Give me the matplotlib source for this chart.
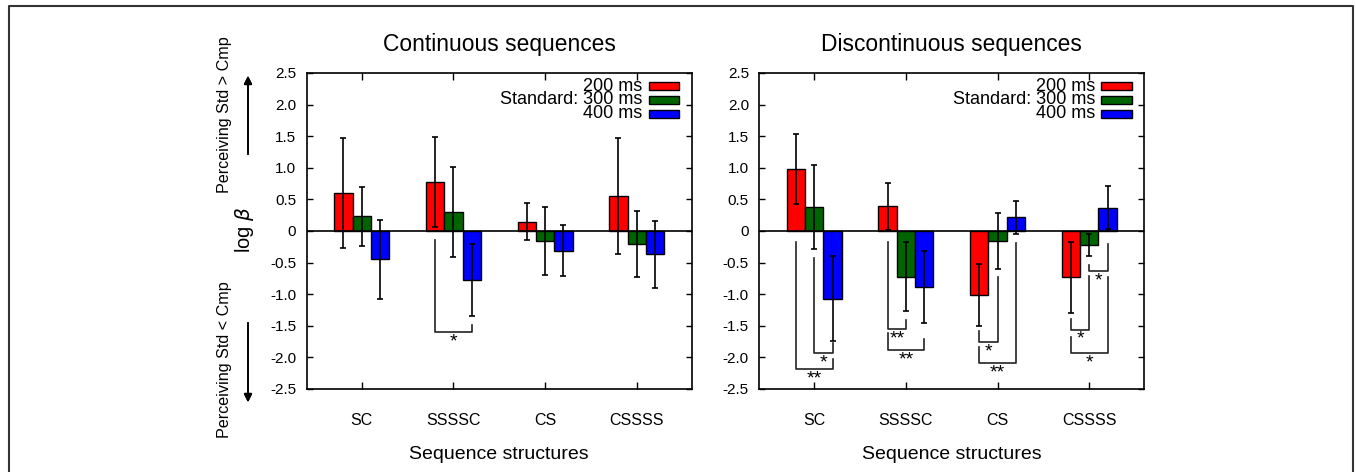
import numpy as np
import matplotlib
matplotlib.use('Agg')
import matplotlib.pyplot as plt
from matplotlib.patches import Rectangle
from matplotlib.lines import Line2D

plt.rcParams['font.family'] = ['Liberation Sans', 'DejaVu Sans']

# data
structures = ['SC', 'SSSSC', 'CS', 'CSSSS']
standards = ['200 ms', '300 ms', '400 ms']
colors = ['#ff0000', '#006400', '#0000ff']

cont_mean = [[0.60, 0.78, 0.15, 0.55],
             [0.23, 0.30, -0.16, -0.21],
             [-0.45, -0.77, -0.31, -0.37]]
cont_err = [[0.87, 0.71, 0.30, 0.92],
            [0.47, 0.71, 0.54, 0.52],
            [0.62, 0.57, 0.40, 0.53]]

disc_mean = [[0.98, 0.39, -1.01, -0.73],
             [0.38, -0.72, -0.16, -0.22],
             [-1.07, -0.89, 0.22, 0.37]]
disc_err = [[0.56, 0.37, 0.49, 0.56],
            [0.67, 0.55, 0.44, 0.17],
            [0.67, 0.57, 0.26, 0.34]]

# significance brackets: (group, bar_a, bar_b, top_a, top_b, bottom, label)
cont_sig = [(1, 0, 2, -0.15, -1.48, -1.60, '*')]
disc_sig = [(0, 0, 2, -0.17, -2.02, -2.19, '**'),
            (0, 1, 2, -0.43, -1.78, -1.93, '*'),
            (1, 0, 1, -0.17, -1.41, -1.55, '**'),
            (1, 0, 2, -1.62, -1.71, -1.88, '**'),
            (2, 0, 1, -1.58, -0.72, -1.76, '*'),
            (2, 0, 2, -1.83, -0.19, -2.09, '**'),
            (3, 1, 2, -0.54, -0.20, -0.63, '*'),
            (3, 0, 1, -1.40, -0.71, -1.56, '*'),
            (3, 0, 2, -1.68, -0.72, -1.93, '*')]

yticks = [-2.5, -2.0, -1.5, -1.0, -0.5, 0, 0.5, 1.0, 1.5, 2.0, 2.5]
ytick_labels = ['-2.5', '-2.0', '-1.5', '-1.0', '-0.5', '0', '0.5', '1.0', '1.5', '2.0', '2.5']

W, H = 1356, 472
fig = plt.figure(figsize=(W / 100, H / 100), dpi=100)

width = 0.2
offsets = [-0.2, 0.0, 0.2]


def panel(ax, means, errs, sig, title):
    x = np.arange(len(structures))
    for i in range(3):
        ax.bar(x + offsets[i], means[i], width, color=colors[i],
               edgecolor='black', linewidth=1.0, zorder=2)
        ax.errorbar(x + offsets[i], means[i], yerr=errs[i], fmt='none',
                    ecolor='black', elinewidth=1.2, capsize=2.5,
                    capthick=1.2, zorder=3)
    ax.axhline(0, color='black', lw=1.2, zorder=4)
    for g, a, b, ta, tb, bot, lab in sig:
        xa = g + offsets[a]
        xb = g + offsets[b]
        ax.plot([xa, xa, xb, xb], [ta, bot, bot, tb], color='#222222',
                lw=1.2, zorder=5)
        ax.text((xa + xb) / 2, bot - 0.02, lab, ha='center', va='top',
                fontsize=14)
    ax.set_xlim(-0.6, 3.6)
    ax.set_ylim(-2.5, 2.5)
    ax.set_xticks(x)
    ax.set_xticklabels(structures, fontsize=11.5)
    ax.set_yticks(yticks)
    ax.set_yticklabels(ytick_labels, fontsize=11)
    ax.tick_params(axis='x', direction='in', top=True, length=5, width=1,
                   pad=17)
    ax.tick_params(axis='y', direction='in', right=True, length=4, width=1,
                   pad=7.5)
    for s in ax.spines.values():
        s.set_linewidth(1.2)
    ax.set_xlabel('Sequence structures', fontsize=14, labelpad=13)
    ax.set_title(title, fontsize=16.4, pad=16)

    # legend drawn by hand: one block of right-aligned text plus colour boxes
    rows = [0.959, 0.915, 0.870]
    for i in range(3):
        ax.add_patch(Rectangle((0.888, rows[i] - 0.012), 0.08, 0.024,
                               transform=ax.transAxes, facecolor=colors[i],
                               edgecolor='black', lw=1.0, zorder=6))
    legend_text = '\n'.join([standards[0], 'Standard: ' + standards[1],
                             standards[2]])
    ax.text(0.872, rows[1], legend_text, transform=ax.transAxes, ha='right',
            va='center', multialignment='right', linespacing=0.72,
            fontsize=13, zorder=6)


ax1 = fig.add_axes([306.7 / W, 1 - 389 / H, 385 / W, 316 / H])
ax2 = fig.add_axes([759.3 / W, 1 - 389 / H, 385 / W, 316 / H])
panel(ax1, cont_mean, cont_err, cont_sig, 'Continuous sequences')
panel(ax2, disc_mean, disc_err, disc_sig, 'Discontinuous sequences')

# y axis annotations
fig.text(245 / W, 1 - 230 / H, r'log $\beta$', rotation=90, ha='center',
         va='center', fontsize=14.5)
fig.text(225 / W, 1 - 115 / H, 'Perceiving Std > Cmp', rotation=90,
         ha='center', va='center', fontsize=11.6)
fig.text(225 / W, 1 - 360 / H, 'Perceiving Std < Cmp', rotation=90,
         ha='center', va='center', fontsize=11.6)
arrow = dict(arrowstyle='-|>', lw=1.2, color='black', mutation_scale=12)
fig.add_artist(plt.annotate('', xy=(248 / W, 1 - 73 / H),
                            xytext=(248 / W, 1 - 157 / H),
                            xycoords='figure fraction', arrowprops=arrow))
fig.add_artist(plt.annotate('', xy=(248 / W, 1 - 405 / H),
                            xytext=(248 / W, 1 - 320 / H),
                            xycoords='figure fraction', arrowprops=arrow))

# outer frame
fx0, fx1, fy = 8.5 / W, 1352.5 / W, 1 - 5.5 / H
fig.add_artist(Line2D([fx0, fx0, fx1, fx1], [0, fy, fy, 0],
                      color='#333333', lw=1.5, transform=fig.transFigure))

fig.savefig('out.png', dpi=100)
